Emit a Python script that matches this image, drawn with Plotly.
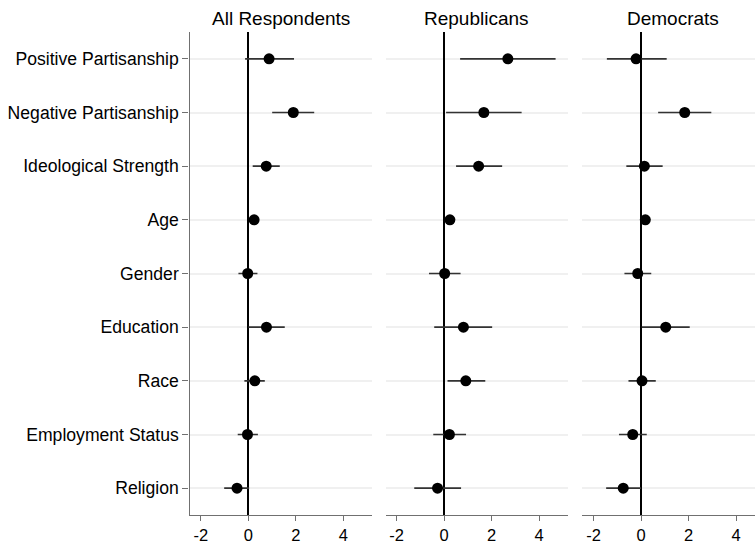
import plotly.graph_objects as go

# Coefficient estimates with 95% confidence intervals, by respondent group
labels = ["Positive Partisanship", "Negative Partisanship", "Ideological Strength",
          "Age", "Gender", "Education", "Race", "Employment Status", "Religion"]

groups = ["All Respondents", "Republicans", "Democrats"]

all_est = [0.87, 1.89, 0.75, 0.24, -0.03, 0.76, 0.27, -0.04, -0.48]
all_lo = [-0.14, 1.00, 0.18, 0.14, -0.42, 0.00, -0.17, -0.45, -1.02]
all_hi = [1.92, 2.77, 1.32, 0.34, 0.38, 1.53, 0.69, 0.40, 0.03]

rep_est = [2.68, 1.67, 1.45, 0.24, 0.02, 0.81, 0.91, 0.22, -0.28]
rep_lo = [0.67, 0.08, 0.50, 0.14, -0.64, -0.42, 0.14, -0.46, -1.26]
rep_hi = [4.69, 3.26, 2.44, 0.34, 0.69, 2.02, 1.73, 0.92, 0.71]

dem_est = [-0.21, 1.84, 0.14, 0.18, -0.14, 1.04, 0.04, -0.35, -0.75]
dem_lo = [-1.44, 0.72, -0.62, 0.08, -0.70, 0.03, -0.53, -0.93, -1.47]
dem_hi = [1.08, 2.96, 0.91, 0.28, 0.43, 2.05, 0.62, 0.24, 0.00]

x_ticks = [-2, 0, 2, 4]

series = [(all_est, all_lo, all_hi), (rep_est, rep_lo, rep_hi), (dem_est, dem_lo, dem_hi)]

W, H = 755, 543
x_domains = [[189.5 / W, 371.7 / W], [386.0 / W, 567.7 / W], [581.7 / W, 1.0]]
x_ranges = [[-2.48, 5.19], [-2.45, 5.2], [-2.5, 4.8]]
title_x = [280.6 / W, 476.9 / W, 672.7 / W]
y_domain = [(H - 515.0) / H, (H - 32.0) / H]

FONT = "Liberation Sans, Arial, Helvetica, sans-serif"
AXIS_GRAY = "#707070"

fig = go.Figure()

for i, (est, lo, hi) in enumerate(series):
    suffix = "" if i == 0 else str(i + 1)
    fig.add_trace(go.Scatter(
        x=est,
        y=labels,
        mode="markers",
        marker=dict(color="black", size=11),
        error_x=dict(
            type="data",
            symmetric=False,
            array=[h - e for h, e in zip(hi, est)],
            arrayminus=[e - l for e, l in zip(est, lo)],
            width=0,
            thickness=1.6,
            color="#333333",
        ),
        xaxis="x" + suffix,
        yaxis="y" + suffix,
        showlegend=False,
        hoverinfo="skip",
    ))

    fig.layout["xaxis" + suffix] = dict(
        domain=x_domains[i],
        range=x_ranges[i],
        tickvals=x_ticks,
        ticktext=[str(t) for t in x_ticks],
        showgrid=False,
        zeroline=True,
        zerolinecolor="black",
        zerolinewidth=1.6,
        showline=True,
        linecolor=AXIS_GRAY,
        linewidth=1.4,
        ticks="outside",
        ticklen=5,
        tickwidth=1,
        tickcolor=AXIS_GRAY,
        tickfont=dict(family=FONT, size=16.5, color="black"),
        anchor="y" + suffix,
        fixedrange=True,
    )
    fig.layout["yaxis" + suffix] = dict(
        domain=y_domain,
        type="category",
        categoryorder="array",
        categoryarray=list(reversed(labels)),
        range=[-0.5, len(labels) - 0.5],
        showgrid=True,
        gridcolor="#f0f0f0",
        gridwidth=1.5,
        zeroline=False,
        showline=(i == 0),
        linecolor=AXIS_GRAY,
        linewidth=1.4,
        ticks="outside" if i == 0 else "",
        ticklen=6,
        tickwidth=1,
        tickcolor=AXIS_GRAY,
        showticklabels=(i == 0),
        tickfont=dict(family=FONT, size=17.6, color="black"),
        anchor="x" + suffix,
        fixedrange=True,
    )

    fig.add_annotation(
        text=groups[i],
        x=title_x[i],
        y=(H - 18.0) / H,
        xref="paper",
        yref="paper",
        xanchor="center",
        yanchor="middle",
        showarrow=False,
        font=dict(family=FONT, size=19, color="black"),
    )

fig.update_layout(
    width=W,
    height=H,
    margin=dict(l=0, r=0, t=0, b=0),
    paper_bgcolor="white",
    plot_bgcolor="white",
)

fig.write_html("out.html")
